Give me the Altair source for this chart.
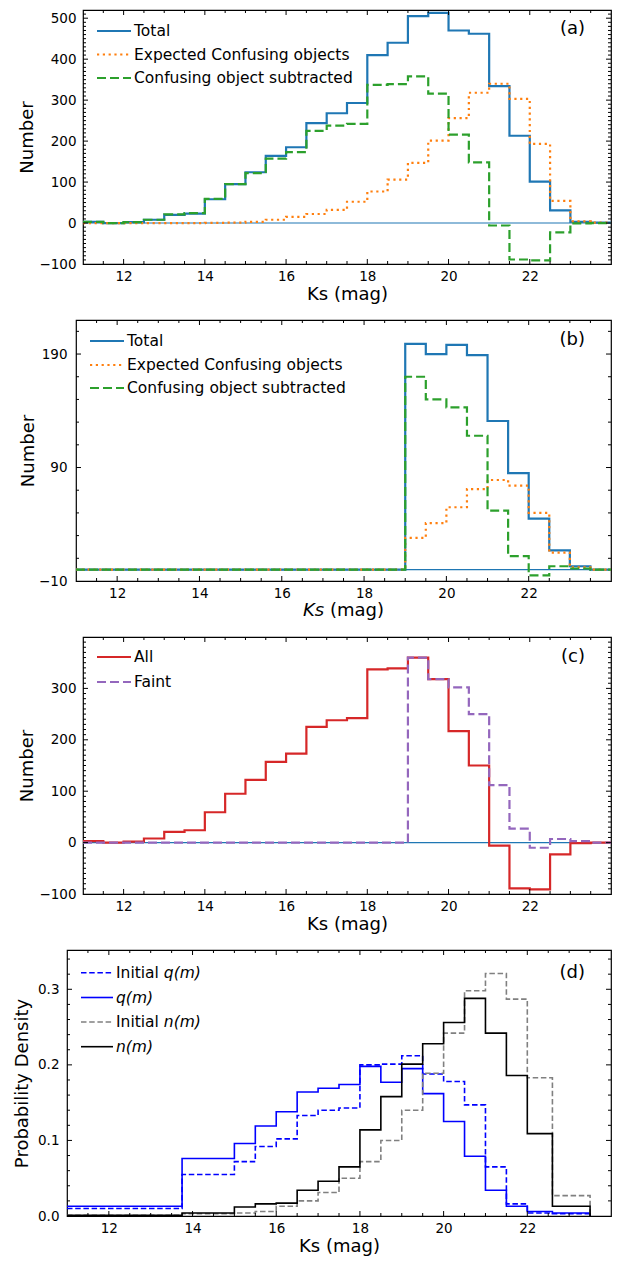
import altair as alt
import numpy as np
import pandas as pd

FONT = "DejaVu Sans"

# ---------------- data ----------------
ks_edges = [11.0, 11.5, 12.0, 12.5, 13.0, 13.5, 14.0, 14.5, 15.0, 15.5, 16.0, 16.5, 17.0,
            17.5, 18.0, 18.5, 19.0, 19.5, 20.0, 20.5, 21.0, 21.5, 22.0, 22.5, 23.0, 23.5, 24.0]

a_total = [3, 0, 2, 8, 20, 23, 58, 95, 124, 164, 185, 244, 268, 293,
           410, 440, 505, 513, 470, 462, 334, 213, 101, 31, 3, 1]
a_expected = [0, 0, 0, 0, 0, 0, 0.5, 1, 3, 8, 15, 22, 32, 52,
              77, 106, 147, 201, 256, 318, 340, 303, 193, 54, 4, 1]
a_subtracted = [3, 0, 2, 8, 21, 24, 59, 95, 122, 157, 173, 225, 238, 242,
                337, 339, 358, 316, 216, 148, -6, -89, -91, -23, -1, 0]

b_total = [0, 0, 0, 0, 0, 0, 0, 0, 0, 0, 0, 0, 0, 0, 0, 0,
           199, 190, 198, 189, 131, 85, 45, 17, 3, 0]
b_expected = [0, 0, 0, 0, 0, 0, 0, 0, 0, 0, 0, 0, 0, 0, 0, 0,
              28, 41, 55, 71, 79, 74, 50, 15, 2, 0]
b_subtracted = [0, 0, 0, 0, 0, 0, 0, 0, 0, 0, 0, 0, 0, 0, 0, 0,
                170, 150, 143, 118, 52, 12, -5, 3, 1, 0]

c_all = [3, 0, 2, 8, 21, 24, 59, 95, 122, 157, 173, 225, 238, 242,
         337, 339, 360, 318, 217, 150, -6, -89, -91, -23, -1, 0]
c_faint = [0, 0, 0, 0, 0, 0, 0, 0, 0, 0, 0, 0, 0, 0, 0, 0,
           360, 318, 302, 250, 112, 27, -10, 7, 3, 0]

d_edges = [11.0, 13.75, 15.0, 15.5, 16.0, 16.5, 17.0, 17.5, 18.0, 18.5, 19.0, 19.5,
           20.0, 20.5, 21.0, 21.5, 22.0, 22.6, 23.5]
d_q_init = [0.010, 0.055, 0.072, 0.092, 0.102, 0.133, 0.140, 0.143, 0.200, 0.201,
            0.212, 0.188, 0.178, 0.147, 0.065, 0.016, 0.004, 0.003]
d_q = [0.013, 0.076, 0.096, 0.119, 0.138, 0.164, 0.169, 0.174, 0.198, 0.177,
       0.195, 0.162, 0.125, 0.079, 0.034, 0.013, 0.006, 0.004]
d_n_init = [0.001, 0.003, 0.004, 0.006, 0.013, 0.020, 0.031, 0.050, 0.072, 0.100,
            0.140, 0.189, 0.242, 0.298, 0.321, 0.287, 0.183, 0.027]
d_n = [0.001, 0.004, 0.012, 0.016, 0.017, 0.034, 0.046, 0.065, 0.114, 0.158,
       0.201, 0.228, 0.256, 0.288, 0.242, 0.186, 0.109, 0.013]

x_tick_labels = [12, 14, 16, 18, 20, 22]
a_y_ticks = [-100, 0, 100, 200, 300, 400, 500]
b_y_ticks = [-10, 90, 190]
c_y_ticks = [-100, 0, 100, 200, 300]
d_y_ticks = [0.0, 0.1, 0.2, 0.3]

# DejaVu Sans advance widths (em) for positioning mixed-style text
ADV = {"I": 0.295, "n": 0.634, "i": 0.278, "t": 0.392, "a": 0.613, "l": 0.278,
       " ": 0.318, "K": 0.656, "s": 0.521, "(": 0.390, "m": 0.974, "g": 0.635, ")": 0.390}


def adv(s, size):
    return sum(ADV.get(c, 0.6) for c in s) * size


one = pd.DataFrame({"k": [0]})

C0, C1, C2, C3, C4 = "#1f77b4", "#ff7f0e", "#2ca02c", "#d62728", "#9467bd"
TICK_FS, TITLE_FS, LEG_FS = 13.5, 18, 15.5


def step_df(edges, vals):
    return pd.DataFrame({"x": edges, "y": list(vals) + [0]})


def build_panel(W, H, ydom, yvals, yfmt, ytitle, ylabpad, ytitlepad, xtitle, series,
                ymaj, ymin, legend, tag, tag_y, zero, leg_x):
    xs = alt.Scale(domain=[11, 24], nice=False, zero=False)
    ys = alt.Scale(domain=ydom, nice=False, zero=False)
    xax_kw = dict(values=x_tick_labels, format="d", grid=False, ticks=False, tickSize=0,
                  domain=False, labelFont=FONT, labelFontSize=TICK_FS, labelColor="black",
                  labelPadding=5, labelFlush=False, titleFont=FONT, titleFontSize=TITLE_FS,
                  titleFontWeight="normal", titleColor="black", titlePadding=2.5)
    if xtitle is None:
        xax = alt.Axis(title=None, **xax_kw)
    else:
        xax = alt.Axis(title=xtitle, **xax_kw)
    yax = alt.Axis(values=yvals, format=yfmt, title=ytitle, grid=False, ticks=False,
                   tickSize=0, domain=False, labelFont=FONT, labelFontSize=TICK_FS,
                   labelColor="black", labelPadding=ylabpad, labelFlush=False,
                   titleFont=FONT, titleFontSize=TITLE_FS, titleFontWeight="normal",
                   titleColor="black", titlePadding=ytitlepad)
    X = lambda f: alt.X(f, scale=xs, axis=xax)
    Y = lambda f: alt.Y(f, scale=ys, axis=yax)
    layers = []
    if zero:
        layers.append(alt.Chart(pd.DataFrame({"y": [0]})).mark_rule(
            color=C0, strokeWidth=1.1).encode(y=Y("y:Q")))
    for s in series:
        kw = dict(interpolate="step-after", color=s["color"], strokeWidth=s["width"], clip=True)
        if s.get("dash"):
            kw["strokeDash"] = s["dash"]
        layers.append(alt.Chart(step_df(s["edges"], s["vals"])).mark_line(**kw).encode(
            x=X("x:Q"), y=Y("y:Q")))
    # inward ticks on all four sides
    x_minor = [float(v) for v in np.arange(11.5, 24.0, 0.5) if v not in x_tick_labels]
    for vals, L in ((x_tick_labels, 5), (x_minor, 3)):
        base = alt.Chart(pd.DataFrame({"v": vals})).mark_rule(color="black", strokeWidth=1)
        layers.append(base.encode(x=X("v:Q"), y=alt.value(H), y2=alt.value(H - L)))
        layers.append(base.encode(x=X("v:Q"), y=alt.value(0), y2=alt.value(L)))
    for vals, L in ((ymaj, 5), (ymin, 3)):
        base = alt.Chart(pd.DataFrame({"v": vals})).mark_rule(color="black", strokeWidth=1)
        layers.append(base.encode(y=Y("v:Q"), x=alt.value(0), x2=alt.value(L)))
        layers.append(base.encode(y=Y("v:Q"), x=alt.value(W), x2=alt.value(W - L)))
    # legend (drawn by hand)
    lx0, lx1, tx = leg_x
    for row in legend:
        kw = dict(color=row["color"], strokeWidth=row["width"])
        if row.get("dash"):
            kw["strokeDash"] = row["dash"]
        layers.append(alt.Chart(one).mark_rule(**kw).encode(
            x=alt.value(lx0), x2=alt.value(lx1), y=alt.value(row["y"])))
        xpos = tx
        for text, italic in row["parts"]:
            tkw = dict(text=text, font=FONT, fontSize=LEG_FS, align="left",
                       baseline="middle", color="black")
            if italic:
                tkw["fontStyle"] = "italic"
            layers.append(alt.Chart(one).mark_text(**tkw).encode(
                x=alt.value(xpos), y=alt.value(row["y"])))
            xpos += adv(text, LEG_FS)
    layers.append(alt.Chart(one).mark_text(
        text=tag, font=FONT, fontSize=18, align="right", baseline="middle",
        color="black").encode(x=alt.value(W - 26), y=alt.value(tag_y)))
    if xtitle is None:
        tot = adv("Ks (mag)", TITLE_FS)
        ty = H + 5 + TICK_FS + 2.5
        layers.append(alt.Chart(one).mark_text(
            text="Ks", font=FONT, fontSize=TITLE_FS, fontStyle="italic", align="left",
            baseline="top", color="black").encode(x=alt.value(W / 2 - tot / 2), y=alt.value(ty)))
        layers.append(alt.Chart(one).mark_text(
            text="(mag)", font=FONT, fontSize=TITLE_FS, align="right",
            baseline="top", color="black").encode(x=alt.value(W / 2 + tot / 2), y=alt.value(ty)))
    return alt.layer(*layers).properties(
        width=W, height=H, view=alt.ViewBackground(stroke="black", strokeWidth=1.2))


def rng(a, b, step, skip):
    out = []
    for v in np.arange(a, b + step / 2, step):
        v = round(float(v), 4)
        if all(abs(v - s) > 1e-9 for s in skip):
            out.append(v)
    return out


leg_abc = (14, 48, 51)

pa = build_panel(
    528, 254, [-100, 520], a_y_ticks, "d", "Number", 7, 2, "Ks (mag)",
    [dict(edges=ks_edges, vals=a_total, color=C0, width=2.2),
     dict(edges=ks_edges, vals=a_expected, color=C1, width=2.2, dash=[2.2, 3.6]),
     dict(edges=ks_edges, vals=a_subtracted, color=C2, width=2.2, dash=[9, 4])],
    [0, 100, 200, 300, 400, 500], rng(-90, 510, 10, a_y_ticks),
    [dict(parts=[("Total", False)], color=C0, width=2.2, y=21),
     dict(parts=[("Expected Confusing objects", False)], color=C1, width=2.2, dash=[2.2, 3.6], y=44.5),
     dict(parts=[("Confusing object subtracted", False)], color=C2, width=2.2, dash=[9, 4], y=68)],
    "(a)", 19, True, leg_abc)

pb = build_panel(
    535, 261, [-10, 220], b_y_ticks, "d", "Number", 9, 1.5, None,
    [dict(edges=ks_edges, vals=b_total, color=C0, width=2.2),
     dict(edges=ks_edges, vals=b_expected, color=C1, width=2.2, dash=[2.2, 3.6]),
     dict(edges=ks_edges, vals=b_subtracted, color=C2, width=2.2, dash=[9, 4])],
    [90, 190], rng(10, 210, 20, b_y_ticks),
    [dict(parts=[("Total", False)], color=C0, width=2.2, y=21),
     dict(parts=[("Expected Confusing objects", False)], color=C1, width=2.2, dash=[2.2, 3.6], y=45),
     dict(parts=[("Confusing object subtracted", False)], color=C2, width=2.2, dash=[9, 4], y=68)],
    "(b)", 20, True, leg_abc)

pc = build_panel(
    528, 257, [-100, 400], c_y_ticks, "d", "Number", 7, 2, "Ks (mag)",
    [dict(edges=ks_edges, vals=c_all, color=C3, width=2.2),
     dict(edges=ks_edges, vals=c_faint, color=C4, width=2.2, dash=[9, 4])],
    [0, 100, 200, 300], rng(-90, 390, 10, c_y_ticks),
    [dict(parts=[("All", False)], color=C3, width=2.2, y=20),
     dict(parts=[("Faint", False)], color=C4, width=2.2, dash=[9, 4], y=45)],
    "(c)", 20, True, leg_abc)

BLUE, GRAY = "#0000ff", "#808080"
pd_ = build_panel(
    544, 266, [0, 0.352], d_y_ticks, ".1f", "Probability Density", 8, 6.5, "Ks (mag)",
    [dict(edges=d_edges, vals=d_q_init, color=BLUE, width=1.6, dash=[5.5, 2.7]),
     dict(edges=d_edges, vals=d_q, color=BLUE, width=1.6),
     dict(edges=d_edges, vals=d_n_init, color=GRAY, width=1.6, dash=[5.5, 2.7]),
     dict(edges=d_edges, vals=d_n, color="black", width=1.6)],
    [0.1, 0.2, 0.3], rng(0.02, 0.34, 0.02, d_y_ticks),
    [dict(parts=[("Initial ", False), ("q(m)", True)], color=BLUE, width=1.6, dash=[5.5, 2.7], y=22.7),
     dict(parts=[("q(m)", True)], color=BLUE, width=1.6, y=47.5),
     dict(parts=[("Initial ", False), ("n(m)", True)], color=GRAY, width=1.6, dash=[5.5, 2.7], y=72),
     dict(parts=[("n(m)", True)], color="black", width=1.6, y=96.7)],
    "(d)", 22.7, False, (14, 46, 49))


def row(spacer_w, panel):
    sp = alt.Chart(one).mark_point(size=0, opacity=0).encode(
        x=alt.value(0), y=alt.value(0)).properties(width=spacer_w, height=1)
    return alt.hconcat(sp, panel, spacing=0)


chart = alt.vconcat(
    row(8, pa), row(8, pb), row(8, pc), row(2, pd_), spacing=14
).properties(
    padding={"left": 0, "top": 0, "right": 0, "bottom": 0}
).configure(font=FONT, background="white").configure_view(stroke="transparent")

chart.save("out.html", embed_options={"renderer": "svg", "actions": False})
